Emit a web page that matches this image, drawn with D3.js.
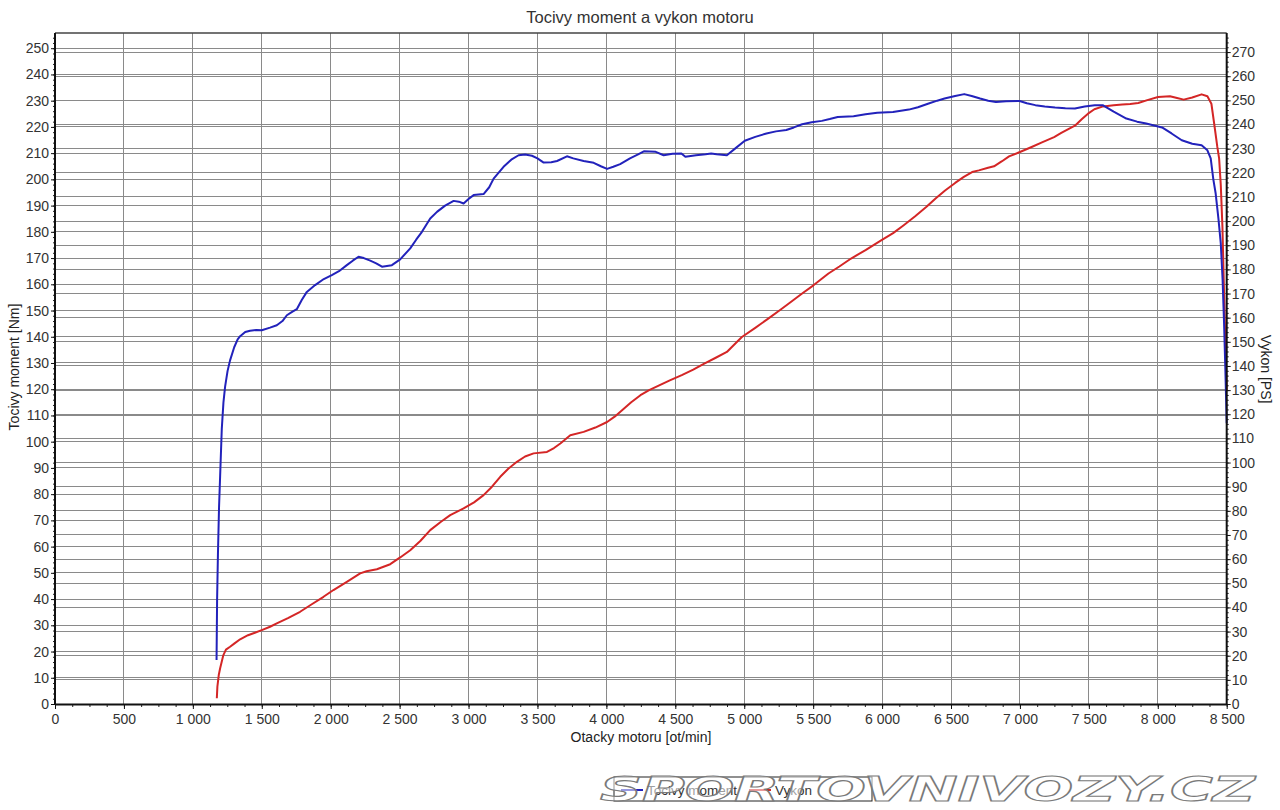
<!DOCTYPE html>
<html>
<head>
<meta charset="utf-8">
<script src="https://cdn.jsdelivr.net/npm/d3@7"></script>
<style>
  html, body { margin: 0; padding: 0; background: #ffffff; }
  svg { display: block; font-family: "Liberation Sans", Arial, sans-serif; }
</style>
</head>
<body>
<svg id="chart" width="1280" height="810"></svg>
<script>
// ---------------- DATA ----------------
const title = "Tocivy moment a vykon motoru";
const xLabel = "Otacky motoru [ot/min]";
const yLeftLabel = "Tocivy moment [Nm]";
const yRightLabel = "Vykon [PS]";
const seriesNames = ["Tocivy moment", "Vykon"];
const watermark = "SPORTOVNIVOZY.CZ";

const xTicks = [0, 500, 1000, 1500, 2000, 2500, 3000, 3500, 4000, 4500, 5000, 5500, 6000, 6500, 7000, 7500, 8000, 8500];
const yLeftTicks = d3.range(0, 251, 10);
const yRightTicks = d3.range(0, 271, 10);

// torque [rpm, Nm]
const torqueRpm = [1172,1176,1182,1190,1198,1210,1222,1234,1252,1270,1300,1325,1343,1380,1415,1460,1500,1560,1609,1650,1682,1720,1754,1790,1827,1887,1950,2008,2060,2117,2160,2202,2240,2287,2330,2372,2444,2504,2577,2620,2662,2722,2771,2830,2892,2930,2964,3000,3037,3109,3150,3182,3254,3310,3363,3410,3460,3500,3545,3600,3642,3714,3760,3835,3908,3960,4005,4050,4100,4171,4230,4272,4358,4415,4480,4544,4573,4650,4720,4760,4800,4874,4940,5004,5080,5161,5230,5305,5360,5420,5490,5563,5620,5678,5793,5880,5965,6079,6194,6260,6338,6400,6453,6530,6596,6650,6711,6770,6826,6900,6998,7050,7112,7180,7255,7330,7399,7470,7543,7600,7680,7772,7850,7916,8031,8100,8174,8250,8318,8360,8384,8403,8420,8440,8457,8470,8481,8490,8500];
const torqueNm = [16.8,40,57,75,87,105,115,121,127,131,136,139,140.2,141.8,142.3,142.6,142.5,143.5,144.4,146,148.2,149.5,150.5,154,157.1,159.7,162,163.5,165,167.3,169,170.5,170,169,168,166.7,167.3,169.5,173.7,177,180,185.1,187.6,190,191.8,191.5,190.8,192.5,194,194.4,197,200.3,204.8,207.5,209.2,209.5,209,208,206.4,206.5,207,208.8,208,207,206.3,205,204,204.8,205.8,208,209.5,210.7,210.5,209.2,209.8,209.9,208.6,209.2,209.6,209.9,209.6,209.2,212,214.7,216.2,217.5,218.3,218.8,219.8,221,221.8,222.3,223,223.8,224.1,224.8,225.4,225.7,226.6,227.5,228.9,230,230.8,231.8,232.5,231.8,230.8,230,229.5,229.8,229.9,229,228.3,227.8,227.4,227.1,227,227.8,228.3,228.3,225.8,223.2,222,221.3,219.8,217.5,214.9,213.6,213,211.1,208,200,194.6,185,175.6,162,145,128,107];

// power [rpm, PS]
const powerRpm = [1174,1178,1188,1198,1220,1240,1270,1300,1343,1400,1450,1500,1560,1609,1690,1778,1860,1948,2020,2117,2214,2260,2335,2432,2504,2577,2650,2722,2800,2867,2964,3040,3109,3170,3230,3290,3351,3410,3472,3569,3620,3666,3738,3835,3920,4005,4060,4120,4180,4247,4310,4383,4460,4547,4630,4710,4790,4874,4930,4983,5080,5174,5260,5338,5420,5502,5611,5690,5775,5880,5993,6080,6157,6240,6320,6390,6457,6530,6593,6653,6702,6769,6812,6870,6921,7000,7085,7160,7248,7300,7358,7399,7450,7494,7540,7603,7680,7743,7800,7858,7930,8002,8088,8140,8188,8250,8318,8360,8389,8410,8432,8445,8457,8469,8481,8490,8500];
const powerPs = [2.4,7.2,12,14.8,20,22.5,23.7,25,26.8,28.5,29.5,30.6,32,33.4,35.6,38.2,41.2,44.4,47.2,50.6,54.1,55,55.8,57.9,60.7,63.7,67.5,72,75.5,78.2,81,83.5,86.5,90,94.1,97.5,100.3,102.5,103.8,104.4,106,107.9,111.3,112.7,114.5,116.8,119,122,125,127.9,130,132,134,136.2,138.5,141,143.3,145.8,149,152,155.8,159.6,163.2,166.5,170,173.4,178.3,181.2,184.5,188,192,195,198.3,202,205.8,209.5,212.7,215.8,218.3,220.3,221,222.1,222.7,224.8,226.8,228.6,230.7,232.6,234.8,236.5,238.3,239.5,242.3,244.5,246.3,247.5,248,248.3,248.5,248.9,250.2,251.4,251.7,251,250.3,251.2,252.5,251.7,248.6,240,230.7,226,215,197.6,170,150,130];

// ---------------- LAYOUT ----------------
const L = 55, R = 1226.7, T = 33, B = 704;
const svg = d3.select("#chart");

const x = d3.scaleLinear().domain([0, 8500]).range([L, R]);
const yL = d3.scaleLinear().domain([0, 255.8]).range([B, T]);
const yR = d3.scaleLinear().domain([0, 277.9]).range([B, T]);

const loc = d3.formatLocale({decimal: ",", thousands: " ", grouping: [3], currency: ["", ""]});
const fmt = loc.format(",");

// grid
const grid = svg.append("g").attr("stroke", "#8a8a8a").attr("stroke-width", 1).attr("shape-rendering", "crispEdges");
grid.selectAll(".gx").data(xTicks.slice(1, -1)).join("line")
  .attr("x1", d => x(d)).attr("x2", d => x(d)).attr("y1", T).attr("y2", B);
grid.selectAll(".gl").data(yLeftTicks.slice(1)).join("line")
  .attr("x1", L).attr("x2", R).attr("y1", d => yL(d)).attr("y2", d => yL(d));
grid.selectAll(".gr").data(yRightTicks.slice(1)).join("line")
  .attr("x1", L).attr("x2", R).attr("y1", d => yR(d)).attr("y2", d => yR(d));

// top frame
svg.append("line").attr("x1", L).attr("x2", R).attr("y1", T).attr("y2", T)
  .attr("stroke", "#444").attr("stroke-width", 1.5);

// lines
const torqueLine = d3.line().x(d => x(d[0])).y(d => yL(d[1]));
const powerLine = d3.line().x(d => x(d[0])).y(d => yR(d[1]));
const torqueData = torqueRpm.map((r, i) => [r, torqueNm[i]]);
const powerData = powerRpm.map((r, i) => [r, powerPs[i]]);

svg.append("path").datum(powerData).attr("d", powerLine)
  .attr("fill", "none").attr("stroke", "#d42626").attr("stroke-width", 2).attr("stroke-linejoin", "round");
svg.append("path").datum(torqueData).attr("d", torqueLine)
  .attr("fill", "none").attr("stroke", "#2222bb").attr("stroke-width", 2).attr("stroke-linejoin", "round");

// axes
const tickText = g => g.selectAll("text").attr("fill", "#333").style("font-size", "14px").style("font-family", "'Liberation Sans', Arial, sans-serif");

// minor ticks
const xMinor = d3.range(0, 8501, 125);
svg.append("g").attr("transform", `translate(0,${B})`)
  .call(d3.axisBottom(x).tickValues(xMinor).tickSize(3).tickFormat(""))
  .call(g => g.select(".domain").remove()).attr("color", "#222");
svg.append("g").attr("transform", `translate(${L},0)`)
  .call(d3.axisLeft(yL).tickValues(d3.range(0, 255, 2)).tickSize(2).tickFormat(""))
  .call(g => g.select(".domain").remove()).attr("color", "#222");
svg.append("g").attr("transform", `translate(${R},0)`)
  .call(d3.axisRight(yR).tickValues(d3.range(0, 277, 2)).tickSize(2).tickFormat(""))
  .call(g => g.select(".domain").remove()).attr("color", "#222");

const xAxis = svg.append("g").attr("transform", `translate(0,${B})`)
  .call(d3.axisBottom(x).tickValues(xTicks).tickSize(5).tickSizeOuter(0).tickPadding(5).tickFormat(fmt))
  .call(tickText).attr("color", "#111");
xAxis.select(".domain").attr("stroke-width", 2);

const yAxisL = svg.append("g").attr("transform", `translate(${L},0)`)
  .call(d3.axisLeft(yL).tickValues(yLeftTicks).tickSize(4).tickSizeOuter(0).tickPadding(2))
  .call(tickText).attr("color", "#111");
yAxisL.select(".domain").attr("stroke-width", 2).attr("d", `M0,${B}V${T}`);

const yAxisR = svg.append("g").attr("transform", `translate(${R},0)`)
  .call(d3.axisRight(yR).tickValues(yRightTicks).tickSize(4).tickSizeOuter(0).tickPadding(1))
  .call(tickText).attr("color", "#111");
yAxisR.select(".domain").attr("stroke-width", 2).attr("d", `M0,${B}V${T}`);

// titles
svg.append("text").attr("x", 640).attr("y", 23).attr("text-anchor", "middle")
  .attr("fill", "#333").style("font-size", "16.5px").text(title);
svg.append("text").attr("x", 641).attr("y", 742).attr("text-anchor", "middle")
  .attr("fill", "#222").style("font-size", "14px").text(xLabel);
svg.append("text").attr("transform", "translate(19,367) rotate(-90)").attr("text-anchor", "middle")
  .attr("fill", "#222").style("font-size", "14px").text(yLeftLabel);
svg.append("text").attr("transform", "translate(1261,369) rotate(90)").attr("text-anchor", "middle")
  .attr("fill", "#222").style("font-size", "14px").text(yRightLabel);

// legend
const leg = svg.append("g");
leg.append("rect").attr("x", 614).attr("y", 777).attr("width", 258).attr("height", 24)
  .attr("fill", "#fff").attr("stroke", "#222").attr("stroke-width", 1);
const legColors = ["#2222bb", "#d42626"];
const legX = [621, 749];
seriesNames.forEach((n, i) => {
  leg.append("line").attr("x1", legX[i]).attr("x2", legX[i] + 22).attr("y1", 790).attr("y2", 790)
    .attr("stroke", legColors[i]).attr("stroke-width", 2);
  leg.append("text").attr("x", legX[i] + 26).attr("y", 795).attr("fill", "#333")
    .style("font-size", "13.5px").text(n);
});

// watermark
svg.append("text").attr("x", 600).attr("y", 801)
  .attr("textLength", 655).attr("lengthAdjust", "spacingAndGlyphs")
  .style("font-family", "'DejaVu Sans', sans-serif").style("font-weight", "bold").style("font-style", "italic")
  .style("font-size", "34px")
  .attr("fill", "#ffffff").attr("fill-opacity", 0.55)
  .attr("stroke", "#7a7a7a").attr("stroke-width", 1.1)
  .text(watermark);
</script>
</body>
</html>
